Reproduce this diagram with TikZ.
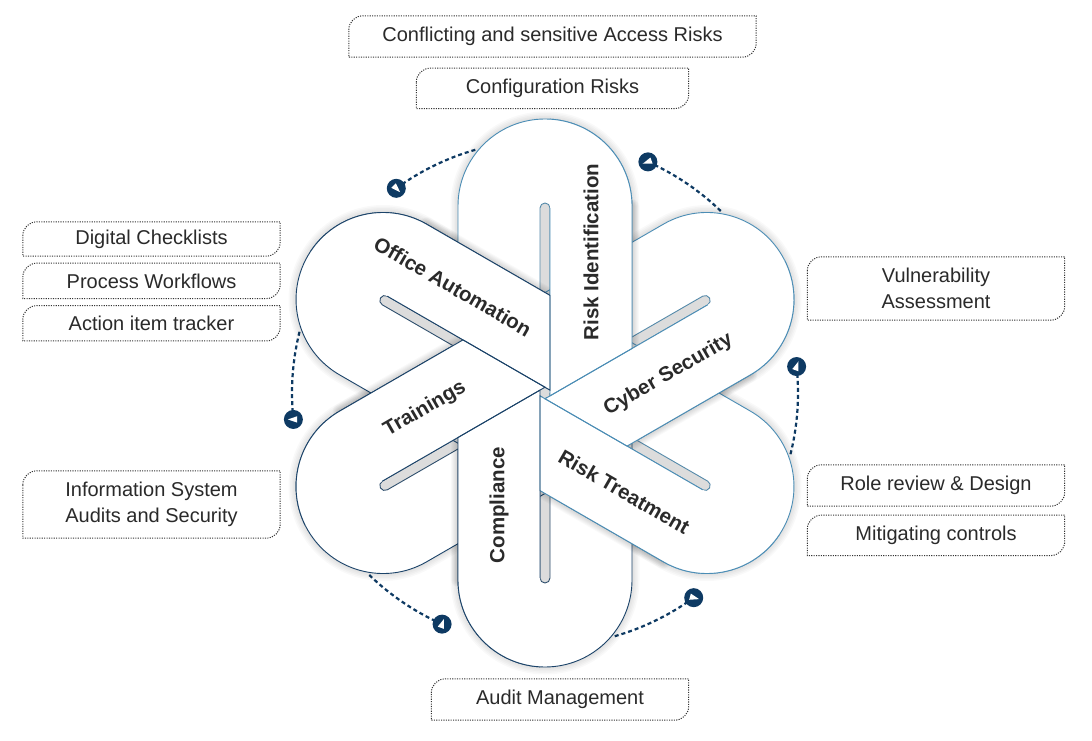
\documentclass[tikz,border=0pt]{standalone}
\usepackage{fontspec}
\setmainfont{Liberation Sans}
\usetikzlibrary{positioning,calc}

\definecolor{navy}{HTML}{1B4369}
\definecolor{sky}{HTML}{4B8DB5}
\definecolor{ink}{HTML}{0E3A63}
\definecolor{slotgray}{HTML}{DCDCDC}
\definecolor{txt}{HTML}{2A2A2A}

\tikzset{
  callout/.style={fill=white, text=txt, align=center, inner sep=0pt, minimum width=257pt,
    font=\fontsize{20}{25.5}\selectfont},
  dotline/.style={draw=black!80, line width=1pt, dash pattern=on 1.1pt off 1.3pt},
  lab/.style={text=txt, inner sep=0pt, font=\fontsize{20.5}{24}\selectfont\bfseries},
  flow/.style={draw=ink, line width=2.2pt, dash pattern=on 4pt off 3pt},
  knob/.style={circle, fill=ink, minimum size=19pt, inner sep=0pt},
  rim/.style={line width=0.9pt},
}

\begin{document}
\begin{tikzpicture}[x=1pt, y=1pt]
\fill[white] (0,0) rectangle (1092,740);
\useasboundingbox (0,0) rectangle (1092,740);
\coordinate (c) at (545,347);

% dashed loop arcs, each ending in a marker
\foreach \a/\t [count=\i] in {106/-45, 46/200, -14/70, -74/-15, -134/70, 166/180}{
  \draw[flow] ($(c)+(\a:253)$) arc[start angle=\a, delta angle=20, radius=253] coordinate (m\i);
  \node[knob] (k\i) at (m\i) {};
  \fill[white] ($(k\i.center)+(\t:5.5)$) -- ($(k\i.center)+({\t+140}:5)$) -- ($(k\i.center)+({\t-140}:5)$) -- cycle;
}

% soft glow under the three bands
\foreach \r in {90,30,-30}
  \foreach \k in {3,6,...,15}
    \draw[black, opacity=0.025, line width=\k pt, shift={(c)}, rotate=\r]
      (-187,-87) -- (187,-87) arc[start angle=-90, end angle=90, radius=87]
      -- (-187,87) arc[start angle=90, end angle=270, radius=87] -- cycle;

% band bodies
\foreach \r in {90,30,-30}
  \fill[white, shift={(c)}, rotate=\r]
    (-187,-87) -- (187,-87) arc[start angle=-90, end angle=90, radius=87]
    -- (-187,87) arc[start angle=90, end angle=270, radius=87] -- cycle;

% half band outlines and slots
\foreach \a/\col in {90/sky, 30/sky, -30/sky, 270/navy, 210/navy, 150/navy}{
  \begin{scope}[shift={(c)}, rotate=\a]
    \draw[\col, rim] (0,87) -- (187,87) arc[start angle=90, end angle=-90, radius=87] -- (0,-87);
    \fill[slotgray] (0,5) -- (185,5) arc[start angle=90, end angle=-90, radius=5] -- (0,-5) -- cycle;
    \draw[\col!80!gray, rim] (0,5) -- (185,5) arc[start angle=90, end angle=-90, radius=5] -- (0,-5);
  \end{scope}
}

% shade cast by the raised strips
\foreach \a in {90,30,-30,270,210,150}
  \foreach \k in {2,4,...,14}
    \draw[black, opacity=0.022, line width=\k pt, line cap=round, shift={(c)}, rotate=\a]
      (44.5,-87) -- (187,-87);

% raised label strips
\foreach \a in {90,30,-30,270,210,150}
  \fill[white, shift={(c)}, rotate=\a]
    (-2.9,-5) -- (44.5,-87) -- (187,-87) arc[start angle=-90, end angle=-3.3, radius=87] -- cycle;
\foreach \a/\col in {90/sky, 30/sky, -30/sky, 270/navy, 210/navy, 150/navy}
  \draw[\col, rim, shift={(c)}, rotate=\a]
    (185,-5) -- (-2.9,-5) -- (44.5,-87) -- (187,-87) arc[start angle=-90, end angle=-3.3, radius=87];

% strip labels
\foreach \a/\lu/\fl/\txt [count=\i] in {90/141/0/Risk Identification, 30/116/0/Cyber Security,
    -30/118/0/Risk Treatment, 270/112/180/Compliance, 210/112/180/Trainings, 150/133/180/Office Automation}
  \node[lab, rotate=\a+\fl] (lbl\i) at ($(c)+(\a:\lu)+({\a-90}:46)$) {\txt};

% callouts
\node[callout, minimum width=407pt, minimum height=41pt] (conflict) at (552.5,703.5) {Conflicting and sensitive Access Risks};
\node[callout, minimum width=272pt, minimum height=40pt, below=11pt of conflict] (config) {Configuration Risks};
\node[callout, minimum height=34pt] (digital) at (151.5,501) {Digital Checklists};
\node[callout, minimum height=35pt, below=7pt of digital] (workflow) {Process Workflows};
\node[callout, minimum height=35pt, below=7pt of workflow] (tracker) {Action item tracker};
\node[callout, minimum height=67pt] (infosys) at (151.5,235.5) {Information System\\Audits and Security};
\node[callout, minimum height=63pt] (vuln) at (936,451.5) {Vulnerability\\Assessment};
\node[callout, minimum height=41pt] (rolerev) at (936,254.5) {Role review \& Design};
\node[callout, minimum height=40pt, below=9pt of rolerev] (mitig) {Mitigating controls};
\node[callout, minimum height=41pt] (audit) at (560,40.5) {Audit Management};

\foreach \n in {conflict,config,digital,workflow,tracker,infosys,vuln,rolerev,mitig,audit}
  \draw[dotline] ($(\n.north west)+(0,-14)$) arc[start angle=180, end angle=90, radius=14]
    -- (\n.north east) -- ($(\n.south east)+(0,14)$) arc[start angle=0, end angle=-90, radius=14]
    -- (\n.south west) -- cycle;
\end{tikzpicture}
\end{document}
